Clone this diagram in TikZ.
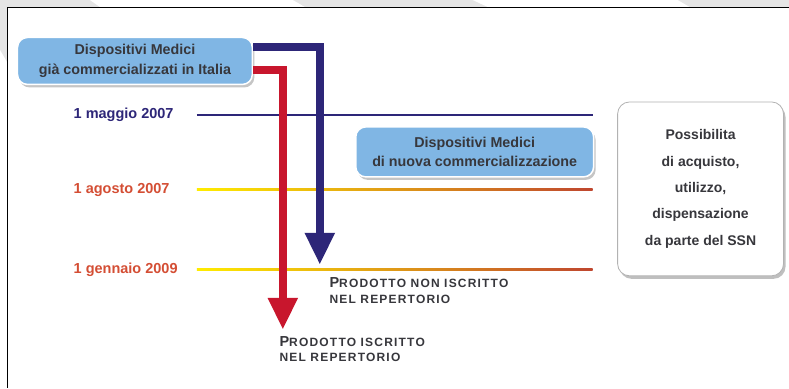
\documentclass[tikz,border=0pt]{standalone}
\usepackage{fontspec}
\setmainfont{Liberation Sans}
\usetikzlibrary{positioning,arrows.meta,shadows}
\definecolor{navy}{RGB}{45,38,120}
\definecolor{crimson}{RGB}{200,22,45}
\definecolor{skyfill}{RGB}{128,182,228}
\definecolor{datered}{RGB}{212,78,52}
\definecolor{inkgray}{RGB}{55,55,60}
\newcommand{\firstcap}[1]{{\fontsize{14.5}{14}\selectfont #1}}

\begin{document}
\begin{tikzpicture}[x=1pt, y=-1pt, thick,
    device/.style = {draw=white, line width=1.5pt, rounded corners=10pt, fill=skyfill,
        drop shadow={opacity=.45, shadow xshift=2pt, shadow yshift=-3pt},
        font=\bfseries\fontsize{14.3}{19.5}\selectfont, text=inkgray, align=center},
    ssn/.style = {draw=gray!60, line width=.8pt, rounded corners=12pt, fill=white,
        drop shadow={opacity=.5, shadow xshift=2pt, shadow yshift=-3pt},
        minimum width=166pt, minimum height=174pt,
        font=\bfseries\fontsize{14}{26.5}\selectfont, text=inkgray, align=center},
    date/.style = {anchor=west, font=\bfseries\fontsize{14.5}{16}\selectfont},
    prod/.style = {anchor=north west, align=left, text=inkgray,
        font=\bfseries\fontsize{12}{15.5}\selectfont\addfontfeature{LetterSpace=10}},
    flow/.style = {line width=8pt, -{Triangle[width=28pt,length=32pt]}}]
    % background
    \fill[gray!20] (0,0) rectangle (789,388);
    \fill[white] (90,0) -- (293,0) -- (305,7) -- (100,7) -- cycle;
    \fill[white] (473,0) -- (678,0) -- (690,7) -- (488,7) -- cycle;
    \fill[white] (0,50) -- (7,62) -- (7,388) -- (0,388) -- cycle;
    \fill[white] (7.5,7.5) rectangle (789,388);
    \draw[black, line width=1pt] (7.5,388) -- (7.5,7.5) -- (789,7.5);

    \node[device, minimum width=235pt, minimum height=47pt] (1) at (135,61) {Dispositivi Medici\\già commercializzati in Italia};
    \node[device, minimum width=238pt, minimum height=50pt] (2) at (475,152) {Dispositivi Medici\\di nuova commercializzazione};
    \node[ssn] (3) at (701,189) {Possibilita\\di acquisto,\\utilizzo,\\dispensazione\\da parte del SSN};

    \node[date, text=navy] (d1) at (70,115) {1 maggio 2007};
    \node[date, text=datered] (d2) at (70,190) {1 agosto 2007};
    \node[date, text=datered] (d3) at (70,270) {1 gennaio 2009};

    % timeline
    \draw[navy, line width=1.5pt] (197,115) -- (593,115);
    \shade[left color=yellow!85!orange, right color=datered!90!black] (197,189) rectangle (593,191);
    \shade[left color=yellow!85!orange, right color=datered!90!black] (197,269) rectangle (593,271);

    \coordinate (bluetip) at (320,265);
    \coordinate (redtip) at (283,330);
    \draw[flow, navy] ([yshift=14pt]1.east) -| (bluetip);
    \draw[flow, crimson] ([yshift=-9pt]1.east) -| (redtip);

    \node[prod] (p1) at (326,274) {\firstcap{P}RODOTTO NON ISCRITTO\\NEL REPERTORIO};
    \node[prod] (p2) at (276,333) {\firstcap{P}RODOTTO ISCRITTO\\NEL REPERTORIO};
\end{tikzpicture}
\end{document}
